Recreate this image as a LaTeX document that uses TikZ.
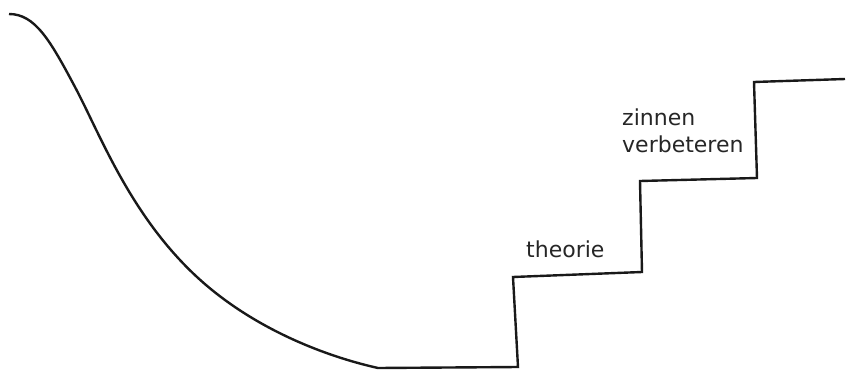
\documentclass[tikz,border=0pt]{standalone}
\usepackage{fontspec}
\setmainfont{DejaVu Sans}
\begin{document}
\begin{tikzpicture}[x=1pt,y=-1pt,
  stroke/.style={line width=2.4pt,line join=miter,line cap=butt,black!90},
  lbl/.style={anchor=base west,inner sep=0pt,font=\fontsize{22}{27}\selectfont,text=black!85}]
\useasboundingbox (0,0) rectangle (855,370);
\draw[stroke] (9,14) .. controls (35,14) and (50,40) .. (75,87)
  .. controls (100,134) and (130,215) .. (197,277)
  .. controls (250,326) and (320,355) .. (378,368)
  -- (518,367) -- (513,277) -- (642,272) -- (640,181) -- (757,178) -- (754,82) -- (845,79);
\node[lbl] (theorie) at (526,257) {theorie};
\node[lbl] (zinnen) at (622,125) {zinnen};
\node[lbl] (verbeteren) at (622,152) {verbeteren};
\end{tikzpicture}
\end{document}
